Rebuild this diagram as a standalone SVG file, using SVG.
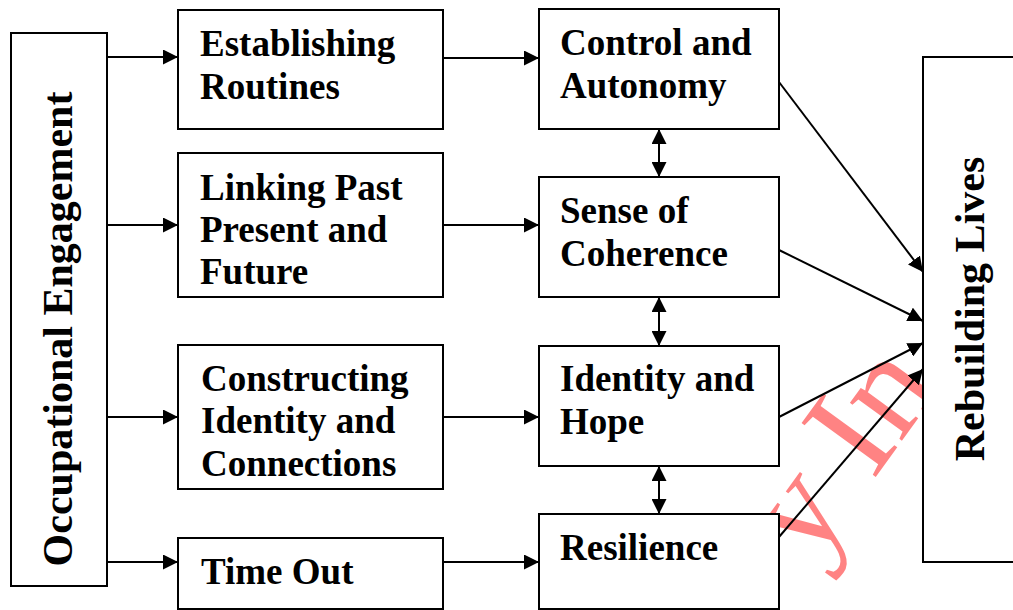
<svg xmlns="http://www.w3.org/2000/svg" width="1013" height="610" viewBox="0 0 1013 610">
<style>
.box{fill:#fff;stroke:#000;stroke-width:2}
.t{font-family:"Liberation Serif","Times New Roman",serif;font-weight:bold;font-size:37px;fill:#000}
.rt{font-family:"Liberation Serif","Times New Roman",serif;font-weight:bold;font-size:42px;fill:#000}
.c{stroke:#000;stroke-width:2;fill:none}
.wm{font-family:"Liberation Serif","Times New Roman",serif;font-size:140px;fill:#ff3030;fill-opacity:0.6}
</style>
<defs>
<marker id="ah" markerUnits="userSpaceOnUse" markerWidth="16" markerHeight="15" refX="15" refY="7.5" orient="auto-start-reverse" viewBox="0 0 16 15">
<path d="M0,0 L15,7.5 L0,15 z" fill="#000"/>
</marker>
</defs>
<text class="wm" transform="translate(811,566) rotate(-54)">y In</text>
<g id="occupational-engagement">
<rect class="box" x="11" y="33" width="96" height="553"/>
<text class="rt" transform="translate(72,329) rotate(-90)" text-anchor="middle">Occupational Engagement</text>
</g>
<g id="establishing-routines">
<rect class="box" x="178" y="10" width="265" height="119"/>
<text class="t" x="200" y="56">Establishing</text>
<text class="t" x="200" y="99">Routines</text>
</g>
<g id="linking-past">
<rect class="box" x="178" y="153" width="265" height="144"/>
<text class="t" x="200" y="200">Linking Past</text>
<text class="t" x="200" y="242">Present and</text>
<text class="t" x="200" y="284">Future</text>
</g>
<g id="constructing-identity">
<rect class="box" x="178" y="345" width="265" height="144"/>
<text class="t" x="201" y="391">Constructing</text>
<text class="t" x="201" y="433">Identity and</text>
<text class="t" x="201" y="476">Connections</text>
</g>
<g id="time-out">
<rect class="box" x="178" y="538" width="265" height="71"/>
<text class="t" x="201" y="584">Time Out</text>
</g>
<g id="control-autonomy">
<rect class="box" x="539" y="9" width="240" height="120"/>
<text class="t" x="560" y="55">Control and</text>
<text class="t" x="560" y="98">Autonomy</text>
</g>
<g id="sense-of-coherence">
<rect class="box" x="539" y="177" width="240" height="120"/>
<text class="t" x="560" y="223">Sense of</text>
<text class="t" x="560" y="266">Coherence</text>
</g>
<g id="identity-hope">
<rect class="box" x="539" y="346" width="240" height="120"/>
<text class="t" x="560" y="391">Identity and</text>
<text class="t" x="560" y="434">Hope</text>
</g>
<g id="resilience">
<rect class="box" x="539" y="514" width="240" height="95"/>
<text class="t" x="560" y="560">Resilience</text>
</g>
<g id="rebuilding-lives">
<rect class="box" x="923" y="57" width="100" height="505"/>
<text class="rt" transform="translate(984,309) rotate(-90)" text-anchor="middle">Rebuilding Lives</text>
</g>
<g id="connectors">
<line class="c" x1="107" y1="57" x2="178" y2="57" marker-end="url(#ah)"/>
<line class="c" x1="107" y1="225" x2="178" y2="225" marker-end="url(#ah)"/>
<line class="c" x1="107" y1="417" x2="178" y2="417" marker-end="url(#ah)"/>
<line class="c" x1="107" y1="562" x2="178" y2="562" marker-end="url(#ah)"/>
<line class="c" x1="443" y1="58" x2="539" y2="58" marker-end="url(#ah)"/>
<line class="c" x1="443" y1="225" x2="539" y2="225" marker-end="url(#ah)"/>
<line class="c" x1="443" y1="417" x2="539" y2="417" marker-end="url(#ah)"/>
<line class="c" x1="443" y1="562" x2="539" y2="562" marker-end="url(#ah)"/>
<line class="c" x1="659" y1="129" x2="659" y2="177" marker-start="url(#ah)" marker-end="url(#ah)"/>
<line class="c" x1="659" y1="297" x2="659" y2="346" marker-start="url(#ah)" marker-end="url(#ah)"/>
<line class="c" x1="659" y1="466" x2="659" y2="514" marker-start="url(#ah)" marker-end="url(#ah)"/>
<line class="c" x1="779" y1="82" x2="923" y2="272" marker-end="url(#ah)"/>
<line class="c" x1="779" y1="250" x2="923" y2="321" marker-end="url(#ah)"/>
<line class="c" x1="779" y1="417" x2="923" y2="343" marker-end="url(#ah)"/>
<line class="c" x1="779" y1="537" x2="923" y2="369" marker-end="url(#ah)"/>
</g>
</svg>
